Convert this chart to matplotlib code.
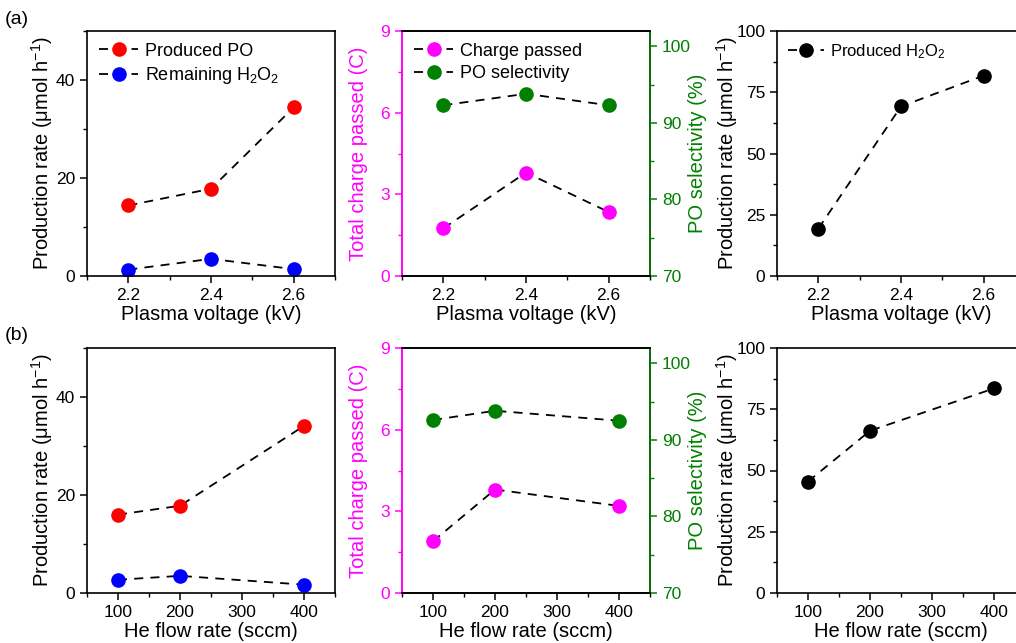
import matplotlib.pyplot as plt
from matplotlib.ticker import MultipleLocator

plt.rcParams['font.family'] = ['Liberation Sans', 'DejaVu Sans']
plt.rcParams['mathtext.default'] = 'regular'

# (a) plasma voltage series
voltage = [2.2, 2.4, 2.6]
po_a = [14.4, 17.8, 34.4]
h2o2_rem_a = [1.3, 3.5, 1.4]
charge_a = [1.75, 3.8, 2.35]
select_a = [92.3, 93.8, 92.3]
h2o2_prod_a = [19.3, 69.2, 81.8]

# (b) He flow rate series
flow = [100, 200, 400]
po_b = [16.0, 17.8, 34.1]
h2o2_rem_b = [2.7, 3.5, 1.7]
charge_b = [1.9, 3.8, 3.2]
select_b = [92.6, 93.8, 92.5]
h2o2_prod_b = [45.5, 66.2, 83.5]

MAG = '#ff00ff'
GRN = '#008000'
dash = (0, (5, 4))
mk = dict(marker='o', markersize=9.5, color='black', linestyle=dash, linewidth=1.3)
prate = 'Production rate (μmol h$^{-1}$)'
TS = 12.5
LS = 14.5
XLY = -0.12

fig = plt.figure(figsize=(10.16, 6.43), dpi=100)

W, H = 1016, 643
lefts = [87, 402, 777]
w = 248 / W
h = 245 / H
bottoms = [(H - 276) / H, (H - 593) / H]


def style(ax, xmaj, xmin):
    ax.tick_params(axis='both', which='major', direction='out', length=5, width=1.1, labelsize=TS)
    ax.tick_params(axis='both', which='minor', direction='out', length=3, width=1.0)
    ax.xaxis.set_major_locator(MultipleLocator(xmaj))
    ax.xaxis.set_minor_locator(MultipleLocator(xmin))
    for s in ax.spines.values():
        s.set_linewidth(1.2)


leg_kw = dict(loc='upper left', frameon=False, handlelength=2.2,
              handletextpad=0.35, borderaxespad=0.25, labelspacing=0.3)

rows = [
    (voltage, po_a, h2o2_rem_a, charge_a, select_a, h2o2_prod_a, 'Plasma voltage (kV)', (2.1, 2.7), 0.2, 0.1),
    (flow, po_b, h2o2_rem_b, charge_b, select_b, h2o2_prod_b, 'He flow rate (sccm)', (50, 450), 100, 50),
]

for r, (x, po, rem, chg, sel, prod, xlab, xl, xmaj, xmin) in enumerate(rows):
    b = bottoms[r]
    # left panel
    ax1 = fig.add_axes([lefts[0] / W, b, w, h])
    ax1.plot(x, po, markerfacecolor='red', markeredgecolor='red', label='Produced PO', **mk)
    ax1.plot(x, rem, markerfacecolor='blue', markeredgecolor='blue', label='Remaining H$_2$O$_2$', **mk)
    ax1.set_xlim(*xl)
    ax1.set_ylim(0, 50)
    ax1.yaxis.set_major_locator(MultipleLocator(20))
    ax1.yaxis.set_minor_locator(MultipleLocator(10))
    style(ax1, xmaj, xmin)
    ax1.set_xlabel(xlab, fontsize=LS)
    ax1.set_ylabel(prate, fontsize=LS)
    ax1.xaxis.set_label_coords(0.5, XLY)
    ax1.yaxis.set_label_coords(-0.13, 0.5)
    if r == 0:
        ax1.legend(fontsize=13, **leg_kw)

    # middle panel
    ax2 = fig.add_axes([lefts[1] / W, b, w, h])
    l1, = ax2.plot(x, chg, markerfacecolor=MAG, markeredgecolor=MAG, label='Charge passed', **mk)
    ax2.set_xlim(*xl)
    ax2.set_ylim(0, 9)
    ax2.yaxis.set_major_locator(MultipleLocator(3))
    ax2.yaxis.set_minor_locator(MultipleLocator(1.5))
    style(ax2, xmaj, xmin)
    ax2.set_xlabel(xlab, fontsize=LS)
    ax2.set_ylabel('Total charge passed (C)', fontsize=LS, color=MAG)
    ax2.xaxis.set_label_coords(0.5, XLY)
    ax2.yaxis.set_label_coords(-0.137, 0.5)
    ax2.tick_params(axis='y', which='both', colors=MAG)
    ax2.spines['left'].set_color(MAG)
    tw = ax2.twinx()
    l2, = tw.plot(x, sel, markerfacecolor=GRN, markeredgecolor=GRN, label='PO selectivity', **mk)
    tw.set_ylim(70, 102)
    tw.yaxis.set_major_locator(MultipleLocator(10))
    tw.yaxis.set_minor_locator(MultipleLocator(5))
    tw.tick_params(axis='y', which='major', direction='out', length=5, width=1.1, labelsize=TS, colors=GRN)
    tw.tick_params(axis='y', which='minor', direction='out', length=3, width=1.0, colors=GRN)
    for s in tw.spines.values():
        s.set_linewidth(1.2)
    tw.spines['right'].set_color(GRN)
    tw.spines['left'].set_color(MAG)
    tw.set_ylabel('PO selectivity (%)', fontsize=LS, color=GRN)
    tw.yaxis.set_label_coords(1.153, 0.5)
    if r == 0:
        ax2.legend([l1, l2], ['Charge passed', 'PO selectivity'], fontsize=13, **leg_kw)

    # right panel
    ax3 = fig.add_axes([lefts[2] / W, b, w, h])
    ax3.plot(x, prod, markerfacecolor='black', markeredgecolor='black', label='Produced H$_2$O$_2$', **mk)
    ax3.set_xlim(*xl)
    ax3.set_ylim(0, 100)
    ax3.yaxis.set_major_locator(MultipleLocator(25))
    ax3.yaxis.set_minor_locator(MultipleLocator(12.5))
    style(ax3, xmaj, xmin)
    ax3.set_xlabel(xlab, fontsize=LS)
    ax3.set_ylabel(prate, fontsize=LS)
    ax3.xaxis.set_label_coords(0.5, XLY)
    ax3.yaxis.set_label_coords(-0.149, 0.5)
    if r == 0:
        ax3.legend(fontsize=12, **leg_kw)

fig.text(5 / W, 1 - 20 / H, '(a)', fontsize=14, va='center', ha='left')
fig.text(5 / W, 1 - 335 / H, '(b)', fontsize=14, va='center', ha='left')

fig.savefig('out.png', dpi=100)
